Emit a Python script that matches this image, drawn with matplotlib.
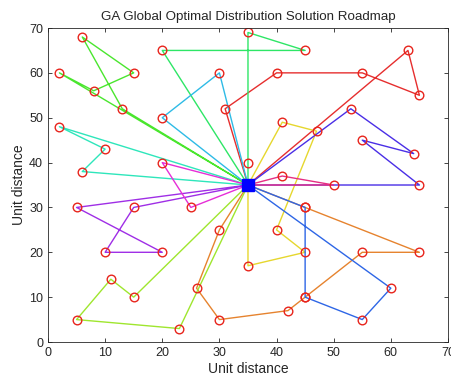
import numpy as np
import matplotlib.pyplot as plt
from matplotlib.colors import hsv_to_rgb

plt.rcParams['font.family'] = ['Liberation Sans', 'DejaVu Sans']

# centro de distribuicao
depot = (35, 35)

# rotas (clientes na ordem de visita), cada uma sai e volta ao centro
route_x = [
    [31, 40, 55, 65, 63],                   # vermelho
    [30, 26, 30, 42, 45, 55, 65, 45],       # laranja
    [35, 45, 40, 47, 41],                   # amarelo
    [15, 11, 5, 23],                        # lima
    [2, 8, 15, 6, 13],                      # verde
    [35, 35, 45, 20],                       # verde claro
    [2, 10, 6],                             # turquesa
    [30, 20],                               # azul celeste
    [45, 45, 55, 60],                       # azul
    [53, 64, 55, 65],                       # anil
    [5, 20, 10, 15],                        # violeta
    [20, 25],                               # magenta
    [41, 50],                               # rosa
]
route_y = [
    [52, 60, 60, 55, 65],
    [25, 12, 5, 7, 10, 20, 20, 30],
    [17, 20, 25, 47, 49],
    [10, 14, 5, 3],
    [60, 56, 60, 68, 52],
    [40, 69, 65, 65],
    [48, 43, 38],
    [60, 50],
    [30, 10, 5, 12],
    [52, 42, 45, 35],
    [30, 20, 20, 30],
    [40, 30],
    [37, 35],
]

title = "GA Global Optimal Distribution Solution Roadmap"

fig = plt.figure(figsize=(4.51, 3.79), dpi=100)
ax = fig.add_axes([0.1064, 0.0976, 0.8869, 0.8285])

n = len(route_x)
for i, (xs, ys) in enumerate(zip(route_x, route_y)):
    cor = hsv_to_rgb((i / n, 0.8, 0.9))
    px = [depot[0]] + xs + [depot[0]]
    py = [depot[1]] + ys + [depot[1]]
    ax.plot(px, py, '-', color=cor, lw=1.0)

todos_x = [v for xs in route_x for v in xs]
todos_y = [v for ys in route_y for v in ys]
ax.plot(todos_x, todos_y, 'o', mfc='none', mec='#e8241c', ms=6.2, mew=1.0)
ax.plot(depot[0], depot[1], 's', color='#0000ff', ms=8.5)

ax.set_xlim(0, 70)
ax.set_ylim(0, 70)
ax.set_xticks(np.arange(0, 71, 10))
ax.set_yticks(np.arange(0, 71, 10))
ax.tick_params(direction='in', top=True, right=True, labelsize=9,
               colors='#262626', length=3, width=0.6)
for s in ax.spines.values():
    s.set_color('#262626')
    s.set_linewidth(0.6)
ax.set_xlabel('Unit distance', fontsize=10, color='#262626', labelpad=2)
ax.set_ylabel('Unit distance', fontsize=10, color='#262626', labelpad=2)
ax.set_title(title, fontsize=9.6, color='#262626', pad=6)

fig.savefig('out.png', dpi=100)
